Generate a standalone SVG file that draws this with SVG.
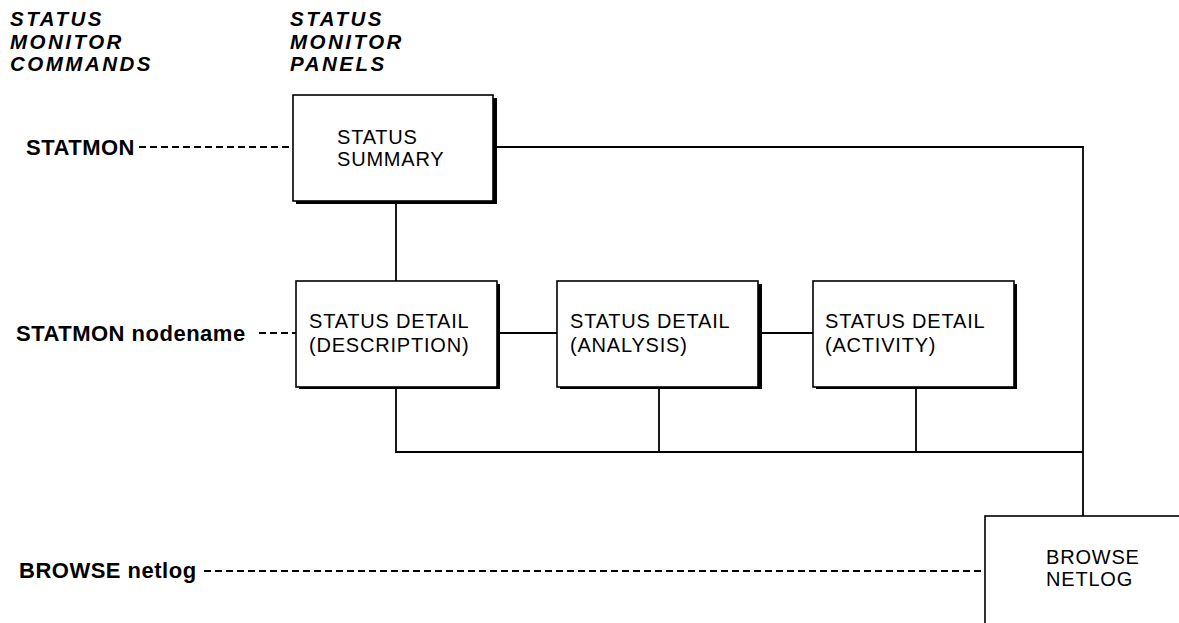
<svg xmlns="http://www.w3.org/2000/svg" width="1179" height="623" viewBox="0 0 1179 623">
  <style>
    .hdr { font-family: "Liberation Sans", Arial, sans-serif; font-size: 20.5px; font-weight: bold; font-style: italic; letter-spacing: 2.5px; fill: #000; }
    .cmd { font-family: "Liberation Sans", Arial, sans-serif; font-size: 22px; font-weight: bold; letter-spacing: 0.5px; fill: #000; }
    .lbl { font-family: "Liberation Sans", Arial, sans-serif; font-size: 20px; letter-spacing: 0.8px; fill: #000; }
    .box { fill: #fff; stroke: #000; stroke-width: 1.6; }
    .shadow { fill: #000; }
    .wire { fill: none; stroke: #000; stroke-width: 1.8; }
    .dash { fill: none; stroke: #000; stroke-width: 1.8; stroke-dasharray: 7 4; }
  </style>

  <!-- column headings -->
  <g id="heading-commands">
    <text class="hdr" x="10" y="26">STATUS</text>
    <text class="hdr" x="10" y="49">MONITOR</text>
    <text class="hdr" x="10" y="71">COMMANDS</text>
  </g>
  <g id="heading-panels">
    <text class="hdr" x="290" y="26">STATUS</text>
    <text class="hdr" x="290" y="49">MONITOR</text>
    <text class="hdr" x="290" y="71">PANELS</text>
  </g>

  <!-- commands -->
  <g id="cmd-statmon">
    <text class="cmd" x="26" y="155">STATMON</text>
  </g>
  <g id="cmd-statmon-nodename">
    <text class="cmd" x="16" y="341">STATMON nodename</text>
  </g>
  <g id="cmd-browse-netlog">
    <text class="cmd" x="19" y="578">BROWSE netlog</text>
  </g>

  <!-- connectors -->
  <g id="connectors">
    <line class="dash" x1="139" y1="147" x2="293" y2="147"/>
    <line class="dash" x1="259" y1="333" x2="296" y2="333"/>
    <line class="dash" x1="204" y1="571" x2="985" y2="571"/>
    <polyline class="wire" points="495,147 1083,147 1083,516"/>
    <line class="wire" x1="396" y1="203" x2="396" y2="281"/>
    <line class="wire" x1="499" y1="333" x2="557" y2="333"/>
    <line class="wire" x1="761" y1="333" x2="813" y2="333"/>
    <polyline class="wire" points="396,389 396,452 1083,452"/>
    <line class="wire" x1="659" y1="389" x2="659" y2="452"/>
    <line class="wire" x1="916" y1="389" x2="916" y2="452"/>
  </g>

  <!-- panels -->
  <g id="status-summary">
    <rect class="shadow" x="296" y="98" width="201" height="106"/>
    <rect class="box" x="293" y="95" width="200" height="106"/>
    <text class="lbl" x="337" y="144">STATUS</text>
    <text class="lbl" x="337" y="166">SUMMARY</text>
  </g>
  <g id="detail-description">
    <rect class="shadow" x="299" y="284" width="201" height="105"/>
    <rect class="box" x="296" y="281" width="201" height="106"/>
    <text class="lbl" x="309" y="328">STATUS DETAIL</text>
    <text class="lbl" x="309" y="352">(DESCRIPTION)</text>
  </g>
  <g id="detail-analysis">
    <rect class="shadow" x="560" y="284" width="202" height="105"/>
    <rect class="box" x="557" y="281" width="201" height="106"/>
    <text class="lbl" x="570" y="328">STATUS DETAIL</text>
    <text class="lbl" x="570" y="352">(ANALYSIS)</text>
  </g>
  <g id="detail-activity">
    <rect class="shadow" x="816" y="284" width="201" height="105"/>
    <rect class="box" x="813" y="281" width="201" height="106"/>
    <text class="lbl" x="825" y="328">STATUS DETAIL</text>
    <text class="lbl" x="825" y="352">(ACTIVITY)</text>
  </g>
  <g id="browse-netlog">
    <rect class="box" x="985" y="516" width="210" height="120"/>
    <text class="lbl" x="1046" y="564">BROWSE</text>
    <text class="lbl" x="1046" y="586">NETLOG</text>
  </g>
</svg>
